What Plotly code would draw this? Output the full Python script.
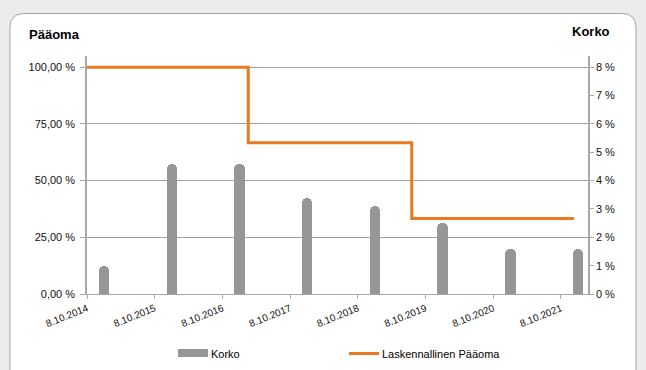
import plotly.graph_objects as go

# Interest payments (Korko, right axis, %)
korko_dates = ["2015-01-08", "2016-01-08", "2017-01-08", "2018-01-08",
               "2019-01-08", "2020-01-08", "2021-01-08", "2022-01-08"]
korko_values = [1.0, 4.6, 4.6, 3.4, 3.1, 2.5, 1.6, 1.6]

# Calculated remaining capital (Laskennallinen Pääoma, left axis, %)
paaoma_dates = ["2014-10-08", "2017-02-24", "2019-07-26", "2021-12-17"]
paaoma_values = [100.0, 66.67, 33.33, 33.33]

# Axis ticks
left_tickvals = [0, 25, 50, 75, 100]
left_ticktext = ["0,00 %", "25,00 %", "50,00 %", "75,00 %", "100,00 %"]
right_tickvals = [0, 1, 2, 3, 4, 5, 6, 7, 8]
right_ticktext = [f"{v} %" for v in right_tickvals]
x_tickvals = ["2014-10-08", "2015-10-08", "2016-10-08", "2017-10-08",
              "2018-10-08", "2019-10-08", "2020-10-08", "2021-10-08"]

FONT = "Liberation Sans, Arial, sans-serif"
GREY_BAR = "#969696"
ORANGE = "#e97a1f"
AXIS = "#a8a8a8"

# plot-area geometry (pixels) used for placing decorations
L, R, T, B = 87, 588, 56, 294
W, H = R - L, B - T


def px(x):
    return (x - L) / W


def py(y):
    return (B - y) / H


fig = go.Figure()
fig.add_trace(go.Bar(
    x=korko_dates, y=korko_values, yaxis="y2", name="Korko",
    marker=dict(color=GREY_BAR, cornerradius=5, line=dict(width=0)),
    width=56 * 86400000,
))
fig.add_trace(go.Scatter(
    x=paaoma_dates, y=paaoma_values, yaxis="y", name="Laskennallinen Pääoma",
    mode="lines", line=dict(color=ORANGE, width=3, shape="hv"),
))

# rounded frame around the chart
r = 14
x0, x1, y0, y1 = 10, 636, 13.5, 390
frame = (f"M {px(x0)},{py(y1)} L {px(x0)},{py(y0 + r)} "
         f"Q {px(x0)},{py(y0)} {px(x0 + r)},{py(y0)} "
         f"L {px(x1 - r)},{py(y0)} "
         f"Q {px(x1)},{py(y0)} {px(x1)},{py(y0 + r)} "
         f"L {px(x1)},{py(y1)} Z")

shapes = [
    dict(type="path", path=frame, xref="paper", yref="paper",
         fillcolor="white", line=dict(color="#a3a3a3", width=1), layer="below"),
    # legend swatches
    dict(type="rect", xref="paper", yref="paper",
         x0=px(178), x1=px(208), y0=py(357), y1=py(349),
         fillcolor=GREY_BAR, line=dict(width=0)),
    dict(type="line", xref="paper", yref="paper",
         x0=px(349), x1=px(379), y0=py(353.5), y1=py(353.5),
         line=dict(color=ORANGE, width=3)),
]

annotations = [
    dict(text="<b>Pääoma</b>", x=px(27), y=py(34), xref="paper", yref="paper",
         xanchor="left", yanchor="middle", showarrow=False,
         font=dict(family=FONT, size=13, color="#000")),
    dict(text="<b>Korko</b>", x=px(612), y=py(32), xref="paper", yref="paper",
         xanchor="right", yanchor="middle", showarrow=False,
         font=dict(family=FONT, size=13, color="#000")),
    dict(text="Korko", x=px(209), y=py(354), xref="paper", yref="paper",
         xanchor="left", yanchor="middle", showarrow=False,
         font=dict(family=FONT, size=11, color="#000")),
    dict(text="Laskennallinen Pääoma", x=px(380), y=py(354), xref="paper",
         yref="paper", xanchor="left", yanchor="middle", showarrow=False,
         font=dict(family=FONT, size=11, color="#000")),
]

fig.update_layout(
    template="none",
    width=646, height=370,
    margin=dict(l=L, r=646 - R, t=T, b=370 - B, pad=0),
    paper_bgcolor="#ececec",
    plot_bgcolor="white",
    showlegend=False,
    font=dict(family=FONT, size=11, color="#000"),
    shapes=shapes,
    annotations=annotations,
    xaxis=dict(
        type="date", range=["2014-10-08", "2022-03-03"],
        tickvals=x_tickvals, tickformat="%-d.%-m.%Y", tickangle=-22,
        tickfont=dict(size=10, color="#111"), showgrid=False, zeroline=False,
        showline=True, linecolor=AXIS, linewidth=1,
        ticks="outside", ticklen=4, tickcolor=AXIS, automargin=False,
    ),
    yaxis=dict(
        range=[0, 104.94], tickvals=left_tickvals, ticktext=left_ticktext,
        showgrid=True, gridcolor="#a0a0a0", gridwidth=1, zeroline=False,
        showline=True, linecolor=AXIS, linewidth=1.5,
        ticks="outside", ticklen=5, tickcolor=AXIS, automargin=False,
        ticklabelstandoff=3, tickfont=dict(size=11, color="#111"),
    ),
    yaxis2=dict(
        overlaying="y", side="right", range=[0, 8.395],
        tickvals=right_tickvals, ticktext=right_ticktext,
        showgrid=False, zeroline=False,
        showline=True, linecolor=AXIS, linewidth=1.5,
        ticks="outside", ticklen=4, tickcolor=AXIS, automargin=False,
        tickfont=dict(size=11, color="#111"),
    ),
    bargap=0,
)

fig.write_html("out.html")
